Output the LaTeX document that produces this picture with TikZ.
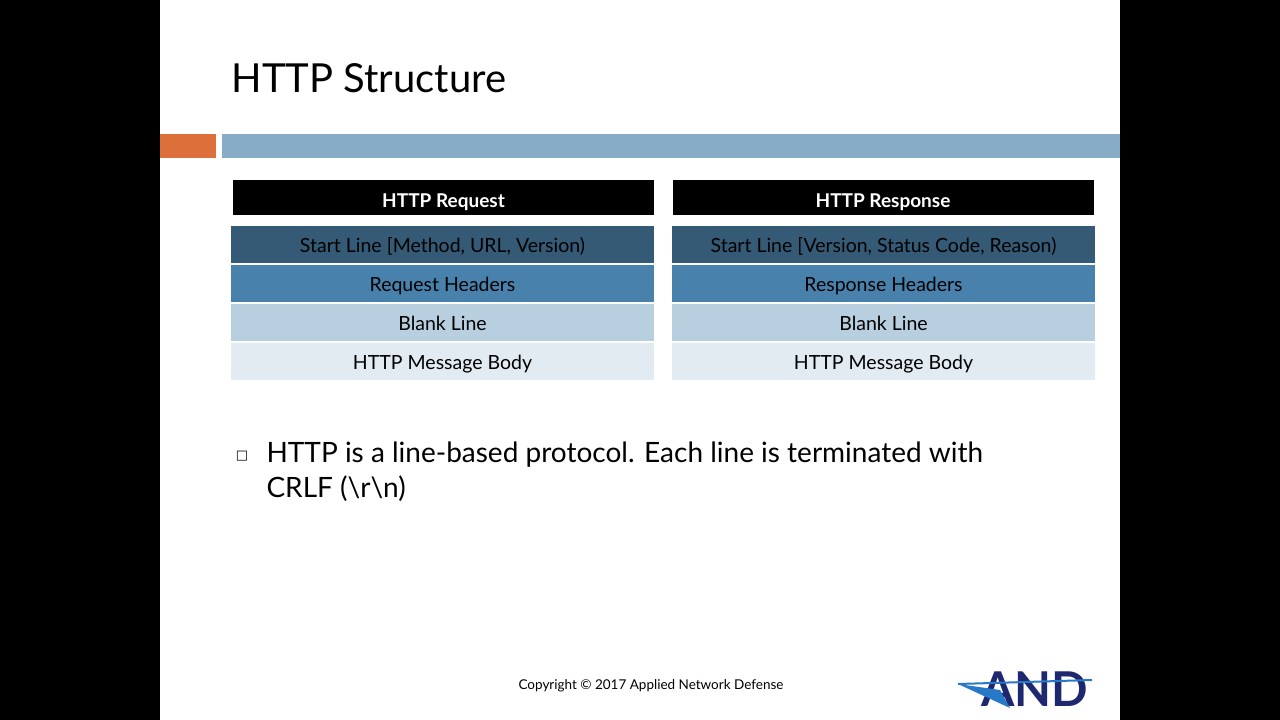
\documentclass[tikz,border=0pt]{standalone}
\usepackage{fontspec}
\setmainfont{Lato}
\newfontfamily\symfont{DejaVu Sans}
\definecolor{band1}{RGB}{135, 172, 200}
\definecolor{orange1}{RGB}{221, 112, 58}
\definecolor{row1}{RGB}{52, 90, 118}
\definecolor{row2}{RGB}{72, 130, 172}
\definecolor{row3}{RGB}{183, 207, 222}
\definecolor{row4}{RGB}{226, 235, 242}
\definecolor{navy1}{RGB}{30, 40, 110}
\definecolor{blue1}{RGB}{40, 120, 200}
\tikzset{
  cell/.style={rectangle, inner sep=0pt, minimum width=423pt, minimum height=37pt,
    text height=17pt, text depth=1pt, font=\fontsize{19.5}{19.5}\selectfont, text=black},
  head/.style={cell, fill=black, text=white, minimum width=421pt, minimum height=35pt,
    text height=19pt, text depth=0pt, font=\fontsize{19}{19}\selectfont\bfseries}
}
\begin{document}
\begin{tikzpicture}[x=1pt, y=-1pt]
  \fill[black] (0,0) rectangle (1280,720);
  \fill[white] (160,0) rectangle (1120,720);
  \useasboundingbox (0,0) rectangle (1280,720);
  % title and bands
  \node[anchor=west, font=\fontsize{40}{40}\selectfont] (title) at (228,78) {HTTP Structure};
  \fill[orange1] (160,134) rectangle (216,158);
  \fill[band1] (222,134) rectangle (1120,158);
  % request table
  \node[head] (reqh) at (443.5,197.5) {HTTP Request};
  \node[cell, fill=row1] (req1) at (442.5,244) {Start Line [Method, URL, Version)};
  \node[cell, fill=row2] (req2) at (442.5,283) {Request Headers};
  \node[cell, fill=row3] (req3) at (442.5,322) {Blank Line};
  \node[cell, fill=row4] (req4) at (442.5,361) {HTTP Message Body};
  % response table
  \node[head] (resh) at (883,197.5) {HTTP Response};
  \node[cell, fill=row1] (res1) at (883.5,244) {Start Line [Version, Status Code, Reason)};
  \node[cell, fill=row2] (res2) at (883.5,283) {Response Headers};
  \node[cell, fill=row3] (res3) at (883.5,322) {Blank Line};
  \node[cell, fill=row4] (res4) at (883.5,361) {HTTP Message Body};
  % bullet
  \node[font=\fontsize{13}{13}\symfont] (box) at (242,456) {□};
  \node[anchor=north west, align=left, font=\fontsize{28}{35}\selectfont] (txt) at (263,438)
    {HTTP is a line-based protocol. Each line is terminated with\\CRLF (\textbackslash r\textbackslash n)};
  % footer
  \node[font=\fontsize{13.5}{13.5}\selectfont] (copy) at (651,686) {Copyright \textcopyright{} 2017 Applied Network Defense};
  \node[font=\fontsize{48}{48}\selectfont\bfseries, text=navy1] (logo) at (1035,689) {AND};
  \draw[blue1, line width=2pt] (958,684) -- (1092,680);
  \fill[blue1] (958,684) -- (1000,690) -- (1010,708) -- cycle;
\end{tikzpicture}
\end{document}
